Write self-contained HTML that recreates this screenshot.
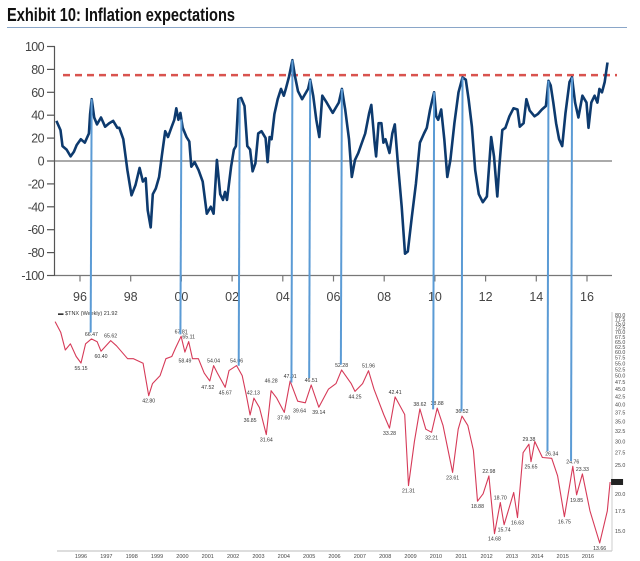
<!DOCTYPE html>
<html><head><meta charset="utf-8">
<style>
html,body{margin:0;padding:0;background:#fff;}
svg{display:block;font-family:"Liberation Sans",sans-serif;}
</style></head>
<body>
<svg id="chart" width="640" height="561" viewBox="0 0 640 561">
  <text x="7" y="21" font-size="18" font-weight="bold" fill="#111" textLength="228" lengthAdjust="spacingAndGlyphs">Exhibit 10: Inflation expectations</text>
  <line x1="7" y1="27.5" x2="627" y2="27.5" stroke="#8aa6c8" stroke-width="1"/>
  <g id="topchart"></g>
  <g id="bottom"></g>
  <g id="conn"></g>
</svg>
<script>
// ---- top chart data (inflation expectations index) ----
const topYears = [1995.07,1995.23,1995.31,1995.47,1995.63,1995.76,1995.87,1996.03,1996.19,1996.35,1996.40,1996.46,1996.56,1996.67,1996.83,1996.99,1997.15,1997.31,1997.47,1997.55,1997.71,1997.87,1998.03,1998.19,1998.35,1998.48,1998.59,1998.67,1998.79,1998.87,1998.99,1999.12,1999.23,1999.36,1999.47,1999.60,1999.72,1999.80,1999.88,1999.96,2000.05,2000.20,2000.31,2000.39,2000.52,2000.68,2000.84,2001.00,2001.16,2001.27,2001.40,2001.53,2001.64,2001.72,2001.80,2001.96,2002.07,2002.15,2002.25,2002.36,2002.49,2002.60,2002.71,2002.81,2002.92,2003.03,2003.16,2003.32,2003.40,2003.48,2003.56,2003.67,2003.80,2003.93,2004.04,2004.12,2004.25,2004.38,2004.48,2004.60,2004.76,2005.00,2005.08,2005.20,2005.32,2005.44,2005.56,2005.73,2005.89,2005.97,2006.13,2006.21,2006.33,2006.46,2006.61,2006.72,2006.85,2006.98,2007.09,2007.25,2007.41,2007.49,2007.62,2007.68,2007.78,2007.89,2007.97,2008.05,2008.21,2008.32,2008.42,2008.53,2008.69,2008.82,2008.93,2009.09,2009.25,2009.41,2009.57,2009.68,2009.81,2009.97,2010.05,2010.13,2010.25,2010.37,2010.49,2010.61,2010.77,2010.93,2011.09,2011.22,2011.33,2011.46,2011.59,2011.73,2011.89,2012.05,2012.22,2012.33,2012.46,2012.54,2012.66,2012.78,2012.94,2013.10,2013.26,2013.35,2013.50,2013.61,2013.74,2013.93,2014.06,2014.22,2014.38,2014.48,2014.57,2014.67,2014.78,2014.90,2015.02,2015.15,2015.31,2015.41,2015.53,2015.66,2015.82,2015.98,2016.06,2016.17,2016.30,2016.41,2016.49,2016.59,2016.70,2016.81];
const topValues = [35,27,13,10,4,8,14,19,16,24,41,54,38,32,38,30,33,35,29,29,19,-8,-30,-21,-6,-18,-15,-43,-58,-29,-24,-14,5,26,21,29,36,46,36,42,29,21,17,-5,-1,-8,-18,-46,-40,-46,1,-29,-34,-27,-34,-5,10,13,54,55,48,13,10,-9,-2,24,26,20,-1,21,19,41,54,63,57,63,74,88,74,61,54,63,71,57,36,21,57,51,45,42,48,51,63,45,19,-14,1,7,14,24,42,49,16,4,33,33,16,19,7,24,32,1,-40,-81,-79,-49,-20,16,24,29,45,60,39,36,45,19,-14,1,33,60,73,71,54,30,-8,-29,-36,-31,21,4,-31,-5,27,29,39,46,45,30,33,54,44,39,41,45,48,70,66,51,33,19,13,42,69,73,51,38,57,51,29,51,57,51,63,60,69,86];
const topYTicks = [100,80,60,40,20,0,-20,-40,-60,-80,-100];
const topXTickYears = [1996,1998,2000,2002,2004,2006,2008,2010,2012,2014,2016];
const topXTickLabels = ["96","98","00","02","04","06","08","10","12","14","16"];
const thresholdValue = [75];

// ---- bottom chart data ($TNX weekly) ----
const botYears = [1994.98,1995.20,1995.38,1995.58,1995.81,1996.00,1996.18,1996.41,1996.64,1996.79,1997.17,1997.40,1997.84,1998.07,1998.45,1998.67,1998.82,1999.12,1999.35,1999.58,1999.73,1999.95,2000.10,2000.25,2000.40,2000.63,2000.86,2001.08,2001.23,2001.38,2001.69,2001.84,2002.14,2002.36,2002.52,2002.67,2002.82,2003.04,2003.31,2003.50,2003.72,2004.02,2004.25,2004.55,2004.85,2005.08,2005.38,2005.76,2006.06,2006.28,2006.66,2006.81,2007.11,2007.34,2007.56,2007.94,2008.17,2008.39,2008.77,2008.92,2009.15,2009.37,2009.60,2009.83,2010.05,2010.28,2010.66,2010.88,2011.03,2011.26,2011.48,2011.64,2011.86,2012.09,2012.31,2012.54,2012.69,2013.07,2013.22,2013.44,2013.67,2013.75,2013.90,2014.20,2014.57,2014.80,2015.07,2015.40,2015.55,2015.78,2016.08,2016.46,2016.76,2016.87];
const botValues = [76,70,61,64,58,55.15,64,66.47,65,60.4,65.62,63,57,57,55,42.8,47,50,57,58,62,67.81,60,65.11,57,57,51,48,54.04,51,45.67,52,54.06,50,43,36.85,42,39,31.64,44.5,42,37.6,47.91,41,40.5,46.51,39.14,45,47,52.28,47,44.25,47,51.96,45,37,33.28,42.41,37,21.31,30,38.62,33,32.21,38.88,34,23.61,33,36.52,34,28,18.88,20,22.98,14.68,18.7,15.74,20.2,16.63,27.5,29.38,25.65,30,26.5,26.34,23,16.75,24.76,19.85,23.33,17.5,13.66,17.5,21.92];
const botLabelYears = [1996.00,1996.41,1997.17,1996.79,1998.67,1999.95,2000.25,2000.10,2001.23,2001.00,2001.69,2002.14,2002.80,2002.67,2003.31,2003.50,2004.25,2004.00,2004.62,2005.08,2005.38,2006.28,2006.81,2007.34,2008.39,2008.17,2008.92,2009.37,2009.83,2010.05,2011.03,2010.66,2011.64,2012.09,2012.31,2012.54,2012.69,2013.22,2013.67,2013.75,2014.57,2015.07,2015.40,2015.78,2015.55,2016.46];
const botLabelValues = ["55.15","66.47","65.62","60.40","42.80","67.81","65.11","58.49","54.04","47.52","45.67","54.06","42.13","36.85","31.64","46.28","47.91","37.60","39.64","46.51","39.14","52.28","44.25","51.96","42.41","33.28","21.31","38.62","32.21","38.88","36.52","23.61","18.88","22.98","14.68","18.70","15.74","16.63","29.38","25.65","26.34","16.75","24.76","23.33","19.85","13.66"];
const botLabelAbove = [0,1,1,0,0,1,1,0,1,0,0,1,1,0,0,1,1,0,0,1,0,1,0,1,1,0,0,1,0,1,1,0,0,1,0,1,0,0,1,0,1,0,1,1,0,0];
const botYTicks = [80,77.5,75,72.5,70,67.5,65,62.5,60,57.5,55,52.5,50,47.5,45,42.5,40,37.5,35,32.5,30,27.5,25,20,17.5,15];
const botXTicks = [1996,1997,1998,1999,2000,2001,2002,2003,2004,2005,2006,2007,2008,2009,2010,2011,2012,2013,2014,2015,2016];

// ---- connector dates (peaks linked between charts) ----
const connYears = [1996.46,2000.0,2002.30,2004.38,2005.08,2006.33,2009.97,2011.09,2014.48,2015.41];

const NS="http://www.w3.org/2000/svg";
function mk(parent,tag,attrs){const e=document.createElementNS(NS,tag);for(const k in attrs)e.setAttribute(k,attrs[k]);parent.appendChild(e);return e;}

const tx = yr => 80 + (yr-1996)*25.35;
const ty = v => 161 - v*1.145;
const bx = yr => 81 + (yr-1996)*25.35;
const by = v => 315 + (Math.log10(80)-Math.log10(v))*297;
function interp(xs,ys,x){if(x<=xs[0])return ys[0];for(let i=1;i<xs.length;i++){if(x<=xs[i]){const t=(x-xs[i-1])/(xs[i]-xs[i-1]);return ys[i-1]+t*(ys[i]-ys[i-1]);}}return ys[ys.length-1];}

// ---- top chart ----
const topG=document.getElementById('topchart');
let el;
el=mk(topG,'line',{x1:54.5,y1:ty(100),x2:54.5,y2:ty(-100),stroke:'#555','stroke-width':1.2});


topYTicks.forEach(v=>{
  const t=mk(topG,'line',{x1:47,y1:ty(v),x2:55,y2:ty(v),stroke:'#555','stroke-width':1.2});
  
  
  const l=mk(topG,'text',{x:44,y:ty(v)+4.5,'text-anchor':'end','font-size':12.5,fill:'#444','letter-spacing':'-0.6'});
  l.textContent=v;
  
  
});
el=mk(topG,'line',{x1:55,y1:ty(0),x2:612,y2:ty(0),stroke:'#777','stroke-width':1.2});


el=mk(topG,'line',{x1:55,y1:ty(-100),x2:612,y2:ty(-100),stroke:'#777','stroke-width':1.2});


topXTickYears.forEach((yr,i)=>{
  const t=mk(topG,'line',{x1:tx(yr),y1:ty(-100),x2:tx(yr),y2:ty(-100)+6,stroke:'#777','stroke-width':1.2});
  
  
  const l=mk(topG,'text',{x:tx(yr),y:301,'text-anchor':'middle','font-size':12.5,fill:'#444'});
  l.textContent=topXTickLabels[i];
  
  
});
el=mk(topG,'line',{x1:63,y1:ty(thresholdValue[0]),x2:617,y2:ty(thresholdValue[0]),stroke:'#d9534f','stroke-width':2.5,'stroke-dasharray':'7,5'});


el=mk(topG,'path',{d:topYears.map((y,i)=>(i?'L':'M')+tx(y).toFixed(1)+','+ty(topValues[i]).toFixed(1)).join(''),fill:'none',stroke:'#0d3a6e','stroke-width':2.6,'stroke-linejoin':'round'});



// ---- bottom chart ----
const bot=document.getElementById('bottom');
el=mk(bot,'line',{x1:57,y1:551,x2:612,y2:551,stroke:'#bbb','stroke-width':1});


el=mk(bot,'line',{x1:612,y1:312,x2:612,y2:551,stroke:'#ccc','stroke-width':1});


botXTicks.forEach(yr=>{
  const l=mk(bot,'text',{x:bx(yr),y:558,'text-anchor':'middle','font-size':5.5,fill:'#444'});
  l.textContent=yr;
  
  
});
botYTicks.forEach(v=>{
  const l=mk(bot,'text',{x:615,y:by(v)+2,'font-size':5.3,fill:'#444'});
  l.textContent=v.toFixed(1);
  
  
});
el=mk(bot,'text',{x:58,y:315,'font-size':5.5,fill:'#333'});
el.textContent='▬ $TNX (Weekly) 21.92';


el=mk(bot,'path',{d:botYears.map((y,i)=>(i?'L':'M')+bx(y).toFixed(1)+','+by(botValues[i]).toFixed(1)).join(''),fill:'none',stroke:'#d63a58','stroke-width':1.1,'stroke-linejoin':'round'});


el=mk(bot,'rect',{x:bx(botYears[botYears.length-1])+1,y:by(botValues[botValues.length-1])-3,width:12,height:6,fill:'#222'});


botLabelYears.forEach((yr,i)=>{
  const v=parseFloat(botLabelValues[i]);
  const yy=by(v)+(botLabelAbove[i]?-3:7);
  const l=mk(bot,'text',{x:bx(yr),y:yy,'text-anchor':'middle','font-size':5.2,fill:'#333'});
  l.textContent=botLabelValues[i];
  
  
});

// ---- connectors ----
const conn=document.getElementById('conn');
connYears.forEach(yr=>{
  const x1=tx(yr), y1=ty(interp(topYears,topValues,yr));
  const x2=bx(yr)-2, y2=by(interp(botYears,botValues,yr))-7;
  const l=mk(conn,'line',{x1:x1,y1:y1,x2:x2,y2:y2,stroke:'#5b9bd5','stroke-width':2});
  
  
});
</script>
</body></html>
